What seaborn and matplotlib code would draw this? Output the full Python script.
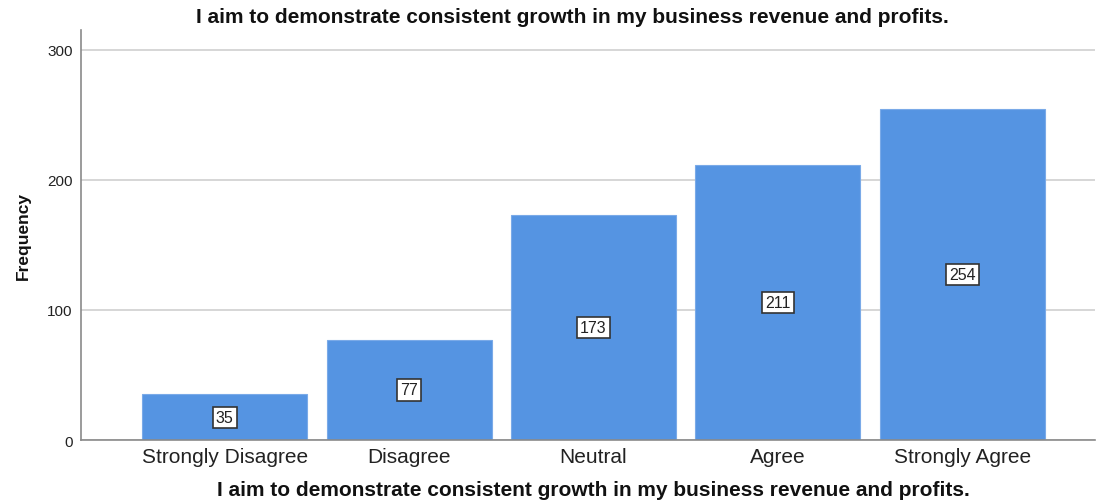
import matplotlib
matplotlib.use("Agg")
import matplotlib.pyplot as plt
import seaborn as sns
import pandas as pd

categories = ["Strongly Disagree", "Disagree", "Neutral", "Agree", "Strongly Agree"]
frequencies = [35, 77, 173, 211, 254]
yticks = [0, 100, 200, 300]
title = "I aim to demonstrate consistent growth in my business revenue and profits."

sns.set_theme(style="white")
plt.rcParams["font.family"] = ["Liberation Sans", "DejaVu Sans"]

df = pd.DataFrame({"category": categories, "frequency": frequencies})

fig = plt.figure(figsize=(10.97, 5.02), dpi=100)
ax = fig.add_axes([0.0738, 0.1215, 0.9242, 0.8165])

sns.barplot(data=df, x="category", y="frequency", color="#5594E2",
            saturation=1, width=0.895, ax=ax, zorder=2)
for p in ax.patches:
    p.set_edgecolor("#7AAAE8")
    p.set_linewidth(0.8)

ax.set_ylim(0, 315)
ax.set_xlim(-0.78, 4.72)
ax.set_yticks(yticks)
ax.set_yticklabels([str(t) for t in yticks], fontsize=11, color="#222222")
ax.set_xticks(range(len(categories)))
ax.set_xticklabels(categories, fontsize=15, color="#222222")
ax.tick_params(axis="x", length=0, pad=5)
ax.tick_params(axis="y", length=0, pad=6)
ax.yaxis.grid(True, color="#D0D0D0", linewidth=1.2, zorder=0)
ax.set_axisbelow(True)

for s in ["top", "right"]:
    ax.spines[s].set_visible(False)
for s in ["left", "bottom"]:
    ax.spines[s].set_color("#8A8A8A")
    ax.spines[s].set_linewidth(1.2)

for i, v in enumerate(frequencies):
    ax.text(i, v / 2, str(v), ha="center", va="center", fontsize=11.5, color="#222222",
            bbox=dict(boxstyle="square,pad=0.2", facecolor="white", edgecolor="#333333", linewidth=1.2),
            zorder=5)

ax.set_ylabel("Frequency", fontsize=12.5, fontweight="bold", labelpad=12, color="#111111")
ax.set_xlabel(title, fontsize=15, fontweight="bold", color="#111111")
ax.xaxis.set_label_coords(0.505, -0.098)
fig.text(0.522, 0.966, title, ha="center", va="center", fontsize=15, fontweight="bold",
         color="#111111")

fig.savefig("out.png", dpi=100)
